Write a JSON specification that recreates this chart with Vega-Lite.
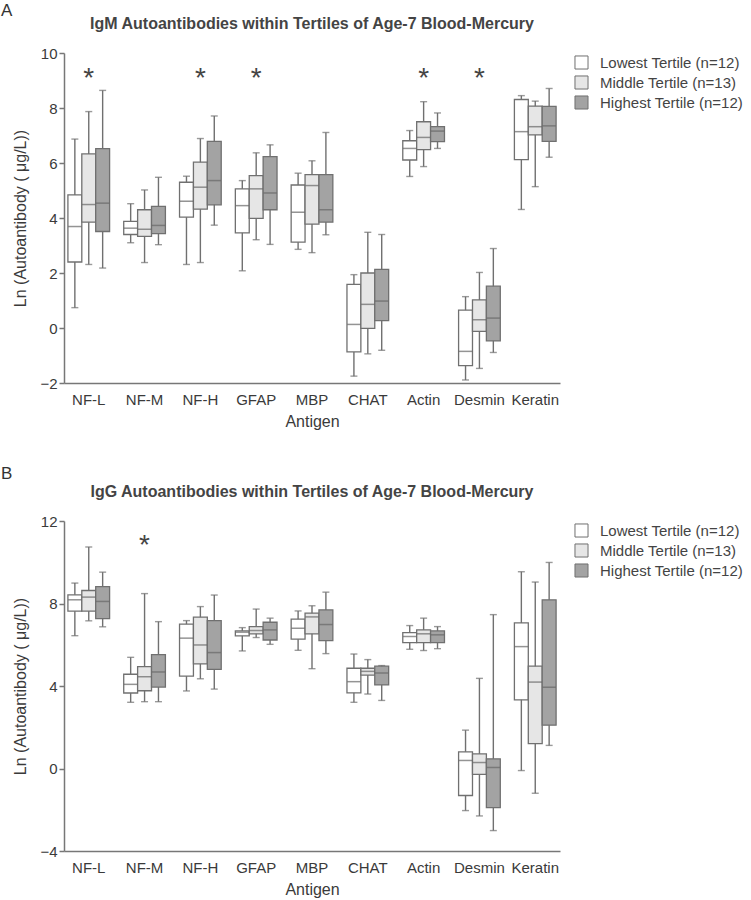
{
  "$schema": "https://vega.github.io/schema/vega-lite/v6.json",
  "padding": {"left": 0, "top": 2, "right": 5, "bottom": 3},
  "background": "white",
  "datasets": {
    "igm": [
      {"antigen": "NF-L", "tertile": "Lowest Tertile (n=12)", "min": 0.74, "q1": 2.40, "median": 3.69, "q3": 4.84, "max": 6.87},
      {"antigen": "NF-L", "tertile": "Middle Tertile (n=13)", "min": 2.31, "q1": 3.85, "median": 4.49, "q3": 6.33, "max": 7.87},
      {"antigen": "NF-L", "tertile": "Highest Tertile (n=12)", "min": 2.18, "q1": 3.51, "median": 4.54, "q3": 6.52, "max": 8.64},
      {"antigen": "NF-M", "tertile": "Lowest Tertile (n=12)", "min": 3.10, "q1": 3.40, "median": 3.63, "q3": 3.88, "max": 4.52},
      {"antigen": "NF-M", "tertile": "Middle Tertile (n=13)", "min": 2.38, "q1": 3.33, "median": 3.59, "q3": 4.30, "max": 5.02},
      {"antigen": "NF-M", "tertile": "Highest Tertile (n=12)", "min": 3.03, "q1": 3.43, "median": 3.73, "q3": 4.42, "max": 5.48},
      {"antigen": "NF-H", "tertile": "Lowest Tertile (n=12)", "min": 2.31, "q1": 4.03, "median": 4.61, "q3": 5.30, "max": 5.52},
      {"antigen": "NF-H", "tertile": "Middle Tertile (n=13)", "min": 2.38, "q1": 4.32, "median": 5.12, "q3": 6.03, "max": 6.89},
      {"antigen": "NF-H", "tertile": "Highest Tertile (n=12)", "min": 3.74, "q1": 4.48, "median": 5.36, "q3": 6.79, "max": 7.71},
      {"antigen": "GFAP", "tertile": "Lowest Tertile (n=12)", "min": 2.08, "q1": 3.46, "median": 4.45, "q3": 5.06, "max": 5.36},
      {"antigen": "GFAP", "tertile": "Middle Tertile (n=13)", "min": 3.21, "q1": 3.99, "median": 5.06, "q3": 5.54, "max": 6.37},
      {"antigen": "GFAP", "tertile": "Highest Tertile (n=12)", "min": 3.04, "q1": 4.30, "median": 4.91, "q3": 6.23, "max": 6.66},
      {"antigen": "MBP", "tertile": "Lowest Tertile (n=12)", "min": 2.86, "q1": 3.12, "median": 4.21, "q3": 5.20, "max": 5.63},
      {"antigen": "MBP", "tertile": "Middle Tertile (n=13)", "min": 2.74, "q1": 3.78, "median": 5.18, "q3": 5.58, "max": 6.08},
      {"antigen": "MBP", "tertile": "Highest Tertile (n=12)", "min": 3.39, "q1": 3.85, "median": 4.30, "q3": 5.58, "max": 7.11},
      {"antigen": "CHAT", "tertile": "Lowest Tertile (n=12)", "min": -1.75, "q1": -0.87, "median": 0.13, "q3": 1.59, "max": 1.94},
      {"antigen": "CHAT", "tertile": "Middle Tertile (n=13)", "min": -0.94, "q1": -0.01, "median": 0.86, "q3": 2.00, "max": 3.48},
      {"antigen": "CHAT", "tertile": "Highest Tertile (n=12)", "min": -0.81, "q1": 0.27, "median": 0.98, "q3": 2.13, "max": 3.40},
      {"antigen": "Actin", "tertile": "Lowest Tertile (n=12)", "min": 5.51, "q1": 6.11, "median": 6.53, "q3": 6.81, "max": 7.18},
      {"antigen": "Actin", "tertile": "Middle Tertile (n=13)", "min": 5.87, "q1": 6.49, "median": 6.93, "q3": 7.50, "max": 8.23},
      {"antigen": "Actin", "tertile": "Highest Tertile (n=12)", "min": 6.53, "q1": 6.78, "median": 7.16, "q3": 7.32, "max": 7.82},
      {"antigen": "Desmin", "tertile": "Lowest Tertile (n=12)", "min": -1.89, "q1": -1.37, "median": -0.85, "q3": 0.65, "max": 1.14},
      {"antigen": "Desmin", "tertile": "Middle Tertile (n=13)", "min": -1.47, "q1": -0.12, "median": 0.30, "q3": 1.02, "max": 2.02},
      {"antigen": "Desmin", "tertile": "Highest Tertile (n=12)", "min": -0.89, "q1": -0.47, "median": 0.36, "q3": 1.52, "max": 2.89},
      {"antigen": "Keratin", "tertile": "Lowest Tertile (n=12)", "min": 4.31, "q1": 6.12, "median": 7.14, "q3": 8.31, "max": 8.45},
      {"antigen": "Keratin", "tertile": "Middle Tertile (n=13)", "min": 5.14, "q1": 7.02, "median": 7.32, "q3": 8.07, "max": 8.25},
      {"antigen": "Keratin", "tertile": "Highest Tertile (n=12)", "min": 6.21, "q1": 6.79, "median": 7.35, "q3": 8.06, "max": 8.71}
    ],
    "igg": [
      {"antigen": "NF-L", "tertile": "Lowest Tertile (n=12)", "min": 6.44, "q1": 7.63, "median": 8.18, "q3": 8.42, "max": 8.99},
      {"antigen": "NF-L", "tertile": "Middle Tertile (n=13)", "min": 7.16, "q1": 7.63, "median": 8.31, "q3": 8.63, "max": 10.74},
      {"antigen": "NF-L", "tertile": "Highest Tertile (n=12)", "min": 6.87, "q1": 7.27, "median": 8.10, "q3": 8.82, "max": 9.52},
      {"antigen": "NF-M", "tertile": "Lowest Tertile (n=12)", "min": 3.21, "q1": 3.66, "median": 4.08, "q3": 4.57, "max": 5.39},
      {"antigen": "NF-M", "tertile": "Middle Tertile (n=13)", "min": 3.24, "q1": 3.77, "median": 4.45, "q3": 4.94, "max": 8.48},
      {"antigen": "NF-M", "tertile": "Highest Tertile (n=12)", "min": 3.24, "q1": 3.95, "median": 4.68, "q3": 5.52, "max": 7.12},
      {"antigen": "NF-H", "tertile": "Lowest Tertile (n=12)", "min": 3.76, "q1": 4.48, "median": 6.32, "q3": 7.00, "max": 7.17},
      {"antigen": "NF-H", "tertile": "Middle Tertile (n=13)", "min": 4.35, "q1": 5.07, "median": 5.99, "q3": 7.34, "max": 7.85},
      {"antigen": "NF-H", "tertile": "Highest Tertile (n=12)", "min": 3.85, "q1": 4.81, "median": 5.62, "q3": 7.17, "max": 8.41},
      {"antigen": "GFAP", "tertile": "Lowest Tertile (n=12)", "min": 5.70, "q1": 6.43, "median": 6.61, "q3": 6.67, "max": 6.83},
      {"antigen": "GFAP", "tertile": "Middle Tertile (n=13)", "min": 6.35, "q1": 6.53, "median": 6.69, "q3": 6.88, "max": 7.73},
      {"antigen": "GFAP", "tertile": "Highest Tertile (n=12)", "min": 6.02, "q1": 6.23, "median": 6.72, "q3": 7.09, "max": 7.29},
      {"antigen": "MBP", "tertile": "Lowest Tertile (n=12)", "min": 5.73, "q1": 6.27, "median": 6.80, "q3": 7.24, "max": 7.64},
      {"antigen": "MBP", "tertile": "Middle Tertile (n=13)", "min": 4.84, "q1": 6.53, "median": 7.35, "q3": 7.53, "max": 7.89},
      {"antigen": "MBP", "tertile": "Highest Tertile (n=12)", "min": 5.57, "q1": 6.20, "median": 6.98, "q3": 7.69, "max": 8.55},
      {"antigen": "CHAT", "tertile": "Lowest Tertile (n=12)", "min": 3.21, "q1": 3.67, "median": 4.21, "q3": 4.86, "max": 5.55},
      {"antigen": "CHAT", "tertile": "Middle Tertile (n=13)", "min": 3.61, "q1": 4.53, "median": 4.71, "q3": 4.86, "max": 5.28},
      {"antigen": "CHAT", "tertile": "Highest Tertile (n=12)", "min": 3.30, "q1": 4.05, "median": 4.63, "q3": 4.96, "max": 4.99},
      {"antigen": "Actin", "tertile": "Lowest Tertile (n=12)", "min": 5.78, "q1": 6.10, "median": 6.40, "q3": 6.59, "max": 6.93},
      {"antigen": "Actin", "tertile": "Middle Tertile (n=13)", "min": 5.72, "q1": 6.10, "median": 6.53, "q3": 6.72, "max": 7.29},
      {"antigen": "Actin", "tertile": "Highest Tertile (n=12)", "min": 5.81, "q1": 6.10, "median": 6.48, "q3": 6.67, "max": 6.88},
      {"antigen": "Desmin", "tertile": "Lowest Tertile (n=12)", "min": -2.04, "q1": -1.31, "median": 0.39, "q3": 0.81, "max": 1.86},
      {"antigen": "Desmin", "tertile": "Middle Tertile (n=13)", "min": -2.30, "q1": -0.28, "median": 0.29, "q3": 0.71, "max": 4.37},
      {"antigen": "Desmin", "tertile": "Highest Tertile (n=12)", "min": -3.01, "q1": -1.90, "median": 0.05, "q3": 0.47, "max": 7.46},
      {"antigen": "Keratin", "tertile": "Lowest Tertile (n=12)", "min": -0.10, "q1": 3.33, "median": 5.91, "q3": 7.06, "max": 9.54},
      {"antigen": "Keratin", "tertile": "Middle Tertile (n=13)", "min": -1.20, "q1": 1.21, "median": 4.19, "q3": 4.96, "max": 9.04},
      {"antigen": "Keratin", "tertile": "Highest Tertile (n=12)", "min": 1.12, "q1": 2.10, "median": 3.94, "q3": 8.18, "max": 9.99}
    ],
    "starsA": [
      {"antigen": "NF-L", "y": 8.75, "label": "*"},
      {"antigen": "NF-H", "y": 8.75, "label": "*"},
      {"antigen": "GFAP", "y": 8.75, "label": "*"},
      {"antigen": "Actin", "y": 8.75, "label": "*"},
      {"antigen": "Desmin", "y": 8.75, "label": "*"}
    ],
    "starsB": [
      {"antigen": "NF-M", "y": 10.4, "label": "*"}
    ]
  },
  "spacing": 36,
  "resolve": {"scale": {"fill": "independent"}, "legend": {"fill": "independent"}},
  "vconcat": [
    {
      "title": {"text": "A", "anchor": "start", "fontSize": 17, "fontWeight": "normal", "color": "#333", "offset": -4, "dx": -12},
      "vconcat": [
        {
          "title": {"text": "IgM Autoantibodies within Tertiles of Age-7 Blood-Mercury", "anchor": "middle", "frame": "group", "offset": 14},
          "width": 496,
          "height": 330,
          "layer": [
            {
              "data": {"name": "igm"},
              "mark": {"type": "rule", "color": "#707070", "strokeWidth": 1.4},
              "encoding": {
                "x": {"field": "antigen", "type": "nominal", "sort": null, "scale": {"domain": ["NF-L", "NF-M", "NF-H", "GFAP", "MBP", "CHAT", "Actin", "Desmin", "Keratin"], "paddingInner": 0.253, "paddingOuter": 0.07}, "axis": {"title": "Antigen", "labelAngle": 0, "ticks": false, "labelPadding": 9, "titlePadding": 6}},
                "xOffset": {"field": "tertile", "type": "nominal", "sort": null, "scale": {"domain": ["Lowest Tertile (n=12)", "Middle Tertile (n=13)", "Highest Tertile (n=12)"], "paddingInner": 0, "paddingOuter": 0}},
                "y": {"field": "min", "type": "quantitative", "scale": {"domain": [-2, 10], "nice": false, "zero": false}, "axis": {"title": "Ln (Autoantibody ( μg/L))", "values": [-2, 0, 2, 4, 6, 8, 10], "tickSize": 5, "labelPadding": 2, "titlePadding": 11}},
                "y2": {"field": "max"}
              }
            },
            {
              "data": {"name": "igm"},
              "mark": {"type": "tick", "color": "#707070", "thickness": 1.4, "size": 7},
              "encoding": {
                "x": {"field": "antigen", "type": "nominal", "sort": null},
                "xOffset": {"field": "tertile", "type": "nominal", "sort": null},
                "y": {"field": "min", "type": "quantitative"}
              }
            },
            {
              "data": {"name": "igm"},
              "mark": {"type": "tick", "color": "#707070", "thickness": 1.4, "size": 7},
              "encoding": {
                "x": {"field": "antigen", "type": "nominal", "sort": null},
                "xOffset": {"field": "tertile", "type": "nominal", "sort": null},
                "y": {"field": "max", "type": "quantitative"}
              }
            },
            {
              "data": {"name": "igm"},
              "mark": {"type": "bar", "stroke": "#707070", "strokeWidth": 1.3, "width": {"band": 1}},
              "encoding": {
                "x": {"field": "antigen", "type": "nominal", "sort": null},
                "xOffset": {"field": "tertile", "type": "nominal", "sort": null},
                "y": {"field": "q1", "type": "quantitative"},
                "y2": {"field": "q3"},
                "fill": {"field": "tertile", "type": "nominal", "sort": null, "scale": {"domain": ["Lowest Tertile (n=12)", "Middle Tertile (n=13)", "Highest Tertile (n=12)"], "range": ["#ffffff", "#e6e6e6", "#a3a3a3"]}, "legend": {"title": null}}
              }
            },
            {
              "data": {"name": "igm"},
              "mark": {"type": "tick", "color": "#666666", "thickness": 1.5, "size": 13.5},
              "encoding": {
                "x": {"field": "antigen", "type": "nominal", "sort": null},
                "xOffset": {"field": "tertile", "type": "nominal", "sort": null},
                "y": {"field": "median", "type": "quantitative"}
              }
            },
            {
              "data": {"name": "starsA"},
              "mark": {"type": "text", "fontSize": 28, "color": "#444", "baseline": "alphabetic", "font": "Liberation Sans"},
              "encoding": {
                "x": {"field": "antigen", "type": "nominal", "sort": null},
                "y": {"field": "y", "type": "quantitative"},
                "text": {"field": "label"}
              }
            }
          ]
        }
      ]
    },
    {
      "title": {"text": "B", "anchor": "start", "fontSize": 17, "fontWeight": "normal", "color": "#333", "offset": 1, "dx": -12},
      "vconcat": [
        {
          "title": {"text": "IgG Autoantibodies within Tertiles of Age-7 Blood-Mercury", "anchor": "middle", "frame": "group", "offset": 14},
          "width": 496,
          "height": 330,
          "layer": [
            {
              "data": {"name": "igg"},
              "mark": {"type": "rule", "color": "#707070", "strokeWidth": 1.4},
              "encoding": {
                "x": {"field": "antigen", "type": "nominal", "sort": null, "scale": {"domain": ["NF-L", "NF-M", "NF-H", "GFAP", "MBP", "CHAT", "Actin", "Desmin", "Keratin"], "paddingInner": 0.253, "paddingOuter": 0.07}, "axis": {"title": "Antigen", "labelAngle": 0, "ticks": false, "labelPadding": 9, "titlePadding": 6}},
                "xOffset": {"field": "tertile", "type": "nominal", "sort": null, "scale": {"domain": ["Lowest Tertile (n=12)", "Middle Tertile (n=13)", "Highest Tertile (n=12)"], "paddingInner": 0, "paddingOuter": 0}},
                "y": {"field": "min", "type": "quantitative", "scale": {"domain": [-4, 12], "nice": false, "zero": false}, "axis": {"title": "Ln (Autoantibody ( μg/L))", "values": [-4, 0, 4, 8, 12], "tickSize": 5, "labelPadding": 2, "titlePadding": 11}},
                "y2": {"field": "max"}
              }
            },
            {
              "data": {"name": "igg"},
              "mark": {"type": "tick", "color": "#707070", "thickness": 1.4, "size": 7},
              "encoding": {
                "x": {"field": "antigen", "type": "nominal", "sort": null},
                "xOffset": {"field": "tertile", "type": "nominal", "sort": null},
                "y": {"field": "min", "type": "quantitative"}
              }
            },
            {
              "data": {"name": "igg"},
              "mark": {"type": "tick", "color": "#707070", "thickness": 1.4, "size": 7},
              "encoding": {
                "x": {"field": "antigen", "type": "nominal", "sort": null},
                "xOffset": {"field": "tertile", "type": "nominal", "sort": null},
                "y": {"field": "max", "type": "quantitative"}
              }
            },
            {
              "data": {"name": "igg"},
              "mark": {"type": "bar", "stroke": "#707070", "strokeWidth": 1.3, "width": {"band": 1}},
              "encoding": {
                "x": {"field": "antigen", "type": "nominal", "sort": null},
                "xOffset": {"field": "tertile", "type": "nominal", "sort": null},
                "y": {"field": "q1", "type": "quantitative"},
                "y2": {"field": "q3"},
                "fill": {"field": "tertile", "type": "nominal", "sort": null, "scale": {"domain": ["Lowest Tertile (n=12)", "Middle Tertile (n=13)", "Highest Tertile (n=12)"], "range": ["#ffffff", "#e6e6e6", "#a3a3a3"]}, "legend": {"title": null}}
              }
            },
            {
              "data": {"name": "igg"},
              "mark": {"type": "tick", "color": "#666666", "thickness": 1.5, "size": 13.5},
              "encoding": {
                "x": {"field": "antigen", "type": "nominal", "sort": null},
                "xOffset": {"field": "tertile", "type": "nominal", "sort": null},
                "y": {"field": "median", "type": "quantitative"}
              }
            },
            {
              "data": {"name": "starsB"},
              "mark": {"type": "text", "fontSize": 28, "color": "#444", "baseline": "alphabetic", "font": "Liberation Sans"},
              "encoding": {
                "x": {"field": "antigen", "type": "nominal", "sort": null},
                "y": {"field": "y", "type": "quantitative"},
                "text": {"field": "label"}
              }
            }
          ]
        }
      ]
    }
  ],
  "config": {
    "view": {"stroke": null},
    "font": "Liberation Sans",
    "title": {"font": "Liberation Sans", "fontSize": 16, "fontWeight": "bold", "color": "#444"},
    "axis": {"labelFont": "Liberation Sans", "titleFont": "Liberation Sans", "labelFontSize": 15, "titleFontSize": 16, "labelColor": "#3a3a3a", "titleColor": "#3a3a3a", "titleFontWeight": "normal", "domainColor": "#777", "tickColor": "#777", "domainWidth": 1.5, "tickWidth": 1.5, "grid": false},
    "legend": {"orient": "right", "offset": 12, "padding": 2, "symbolType": "square", "symbolSize": 170, "symbolStrokeColor": "#707070", "symbolStrokeWidth": 1, "labelFont": "Liberation Sans", "labelFontSize": 15, "labelColor": "#444", "labelOffset": 11, "rowPadding": 1}
  }
}
